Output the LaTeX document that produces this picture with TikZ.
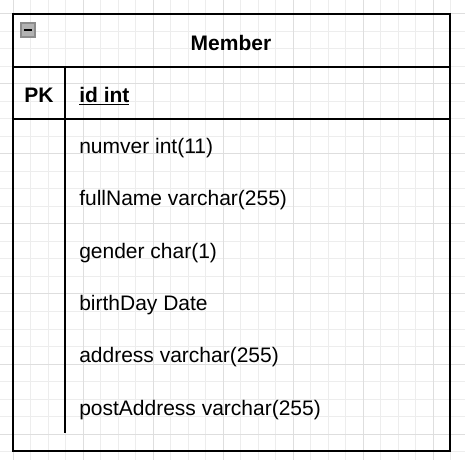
\documentclass[tikz,border=0pt]{standalone}
\usepackage{fontspec}
\setmainfont{Liberation Sans}
\usetikzlibrary{positioning}

\begin{document}
\begin{tikzpicture}[x=0.75pt, y=-0.75pt, every node/.style={font=\fontsize{15.75}{18}\selectfont, inner sep=0pt}]
\tikzset{
  minorgrid/.style={draw=black!7, line width=0.75pt},
  majorgrid/.style={draw=black!13, line width=0.75pt},
  tableline/.style={draw=black, line width=1.3pt},
  fieldtext/.style={anchor=west},
}
\useasboundingbox (0,0) rectangle (465,460);
% Background grid
\foreach \k in {0,...,25} {
  \pgfmathsetmacro{\gx}{13+17.5*\k}
  \pgfmathsetmacro{\gy}{14+17.5*\k}
  \draw[minorgrid] (\gx,0) -- (\gx,460);
  \draw[minorgrid] (0,\gy) -- (465,\gy);
}
\foreach \k in {0,...,6} {
  \pgfmathsetmacro{\gx}{13+70*\k}
  \pgfmathsetmacro{\gy}{14+70*\k}
  \draw[majorgrid] (\gx,0) -- (\gx,460);
  \draw[majorgrid] (0,\gy) -- (465,\gy);
}
% Table
\draw[tableline] (13,14) rectangle (450,451);
\draw[tableline] (13,67) -- (450,67);
\draw[tableline] (13,119) -- (450,119);
\draw[line width=2pt] (13,119) -- (42,119);
\draw[line width=2pt] (420,119) -- (450,119);
\draw[tableline] (65,67) -- (65,433);
% Collapse icon
\draw[fill=black!30, draw=black!45, line width=0.9pt] (21,23) rectangle (35,37);
\draw[line width=1.8pt] (24,30) -- (32,30);
% Header
\node[font=\fontsize{15.75}{18}\selectfont\bfseries] (title) at (231,43) {Member};
\node[font=\fontsize{15.75}{18}\selectfont\bfseries] (pk) at (39,95) {PK};
\node[fieldtext, font=\fontsize{15.75}{18}\selectfont\bfseries] (idfield) at (79,96) {\underline{id int}};
% Fields
\node[fieldtext] (numver) at (79,148) {numver int(11)};
\node[fieldtext] (fullname) at (79,200) {fullName varchar(255)};
\node[fieldtext] (gender) at (79,253) {gender char(1)};
\node[fieldtext] (birthday) at (79,305) {birthDay Date};
\node[fieldtext] (address) at (79,357) {address varchar(255)};
\node[fieldtext] (postaddress) at (79,410) {postAddress varchar(255)};
\end{tikzpicture}
\end{document}
